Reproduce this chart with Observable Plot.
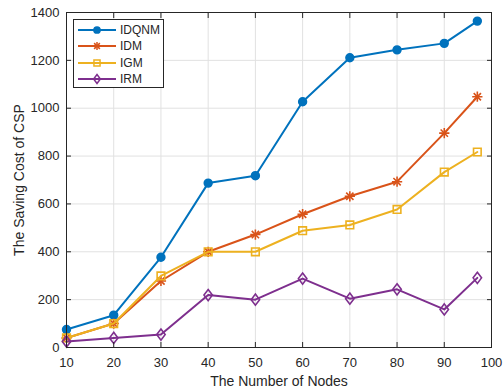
<!DOCTYPE html>
<html>
<head>
<meta charset="utf-8">
<script src="https://cdn.jsdelivr.net/npm/d3@7"></script>
<script src="https://cdn.jsdelivr.net/npm/@observablehq/plot@0.6"></script>
<style>
  body { margin: 0; background: #fff; }
  #wrap { position: relative; width: 504px; height: 388px; font-family: "Liberation Sans", Arial, sans-serif; }
  .legend { position: absolute; left: 73px; top: 19px; width: 91px; height: 69px; box-sizing: border-box;
            border: 1px solid #262626; background: #fff; padding-top: 2px; }
  .legend .row { display: flex; align-items: center; height: 16.3px; color: #262626; font-size: 12px; }
  .legend svg { display: block; margin-left: 3px; margin-right: 3px; }
</style>
</head>
<body>
<div id="wrap"></div>
<script>
// Number of nodes on the x axis
const nodes = [10, 20, 30, 40, 50, 60, 70, 80, 90, 97];

// Saving cost of CSP for each method
const idqnm = [75, 135, 377, 687, 718, 1027, 1211, 1244, 1271, 1364];
const idm   = [40, 100, 278, 400, 472, 557, 632, 693, 896, 1048];
const igm   = [40, 100, 299, 400, 400, 488, 512, 577, 733, 817];
const irm   = [25, 40, 54, 219, 200, 288, 204, 243, 159, 291];

const seriesNames = ["IDQNM", "IDM", "IGM", "IRM"];
const seriesValues = [idqnm, idm, igm, irm];
const seriesColors = ["#0072BD", "#D95319", "#EDB120", "#7E2F8E"];

const xTicks = [10, 20, 30, 40, 50, 60, 70, 80, 90, 100];
const yTicks = [0, 200, 400, 600, 800, 1000, 1200, 1400];

const ink = "#262626";
const gridColor = "#e1e1e1";

// A rhombus a little taller than it is wide
const wideDiamond = {
  draw(context, size) {
    const s = Math.sqrt(size);
    const hy = 0.9 * s, hx = 0.68 * s;
    context.moveTo(0, -hy);
    context.lineTo(hx, 0);
    context.lineTo(0, hy);
    context.lineTo(-hx, 0);
    context.closePath();
  }
};

const symbolTypes = {circle: d3.symbolCircle, plus: d3.symbolPlus, times: d3.symbolTimes,
                     square: d3.symbolSquare, diamond: wideDiamond};

// Marker styling per series: filled circle, star, open square, open diamond
const markerSpecs = [
  [{symbol: "circle", r: 3.9, fill: true}],
  [{symbol: "plus", r: 3.4}, {symbol: "times", r: 3.4}],
  [{symbol: "square", r: 4.3}],
  [{symbol: "diamond", r: 3.5}]
];

const rowsFor = (vals) => nodes.map((n, i) => ({x: n, y: vals[i]}));

const marks = [
  Plot.ruleX(xTicks, {x: d => d, stroke: gridColor, strokeWidth: 1}),
  Plot.ruleY(yTicks, {y: d => d, stroke: gridColor, strokeWidth: 1})
];

seriesValues.forEach((vals, k) => {
  const rows = rowsFor(vals);
  marks.push(Plot.line(rows, {x: "x", y: "y", stroke: seriesColors[k], strokeWidth: 2}));
  for (const m of markerSpecs[k]) {
    marks.push(Plot.dot(rows, {
      x: "x", y: "y", symbol: symbolTypes[m.symbol], r: m.r,
      stroke: seriesColors[k], strokeWidth: 1.6,
      fill: m.fill ? seriesColors[k] : "none"
    }));
  }
});

const fmt = d3.format("d");

marks.push(
  Plot.frame({stroke: ink, strokeWidth: 1}),
  Plot.axisX(xTicks, {anchor: "bottom", tickSize: -5, tickPadding: 15, stroke: ink, color: ink, fontSize: 13,
    tickFormat: fmt, label: null}),
  Plot.axisX(xTicks, {anchor: "top", tickSize: -5, tickFormat: () => "", stroke: ink, label: null}),
  Plot.axisY(yTicks, {anchor: "left", tickSize: -5, tickPadding: 12, stroke: ink, color: ink, fontSize: 13,
    tickFormat: fmt, label: null}),
  Plot.axisY(yTicks, {anchor: "right", tickSize: -5, tickFormat: () => "", stroke: ink, label: null}),
  Plot.axisX({anchor: "bottom", ticks: [], label: "The Number of Nodes", labelAnchor: "center",
    labelOffset: 38, labelArrow: "none", color: ink, fontSize: 14}),
  Plot.axisY({anchor: "left", ticks: [], label: "The Saving Cost of CSP", labelAnchor: "center",
    labelOffset: 52, labelArrow: "none", color: ink, fontSize: 14})
);

const chart = Plot.plot({
  width: 504,
  height: 388,
  marginLeft: 66,
  marginRight: 13,
  marginTop: 12,
  marginBottom: 41,
  style: {fontFamily: "'Liberation Sans', Arial, sans-serif", fontSize: "13px", color: ink, background: "#fff"},
  x: {domain: [10, 100]},
  y: {domain: [0, 1400]},
  marks
});

const wrap = document.getElementById("wrap");
wrap.appendChild(chart);

// Legend box in the upper-left corner of the axes
const legend = document.createElement("div");
legend.className = "legend";
seriesNames.forEach((name, k) => {
  const row = document.createElement("div");
  row.className = "row";
  const svg = d3.create("svg").attr("width", 40).attr("height", 16);
  svg.append("line").attr("x1", 1).attr("x2", 39).attr("y1", 8).attr("y2", 8)
    .attr("stroke", seriesColors[k]).attr("stroke-width", 2);
  for (const m of markerSpecs[k]) {
    const r = m.r * 0.8;
    svg.append("path")
      .attr("d", d3.symbol(symbolTypes[m.symbol], Math.PI * r * r)())
      .attr("transform", "translate(20,8)")
      .attr("stroke", seriesColors[k]).attr("stroke-width", 1.5)
      .attr("fill", m.fill ? seriesColors[k] : "none");
  }
  row.appendChild(svg.node());
  const label = document.createElement("span");
  label.textContent = name;
  row.appendChild(label);
  legend.appendChild(row);
});
wrap.appendChild(legend);
</script>
</body>
</html>
